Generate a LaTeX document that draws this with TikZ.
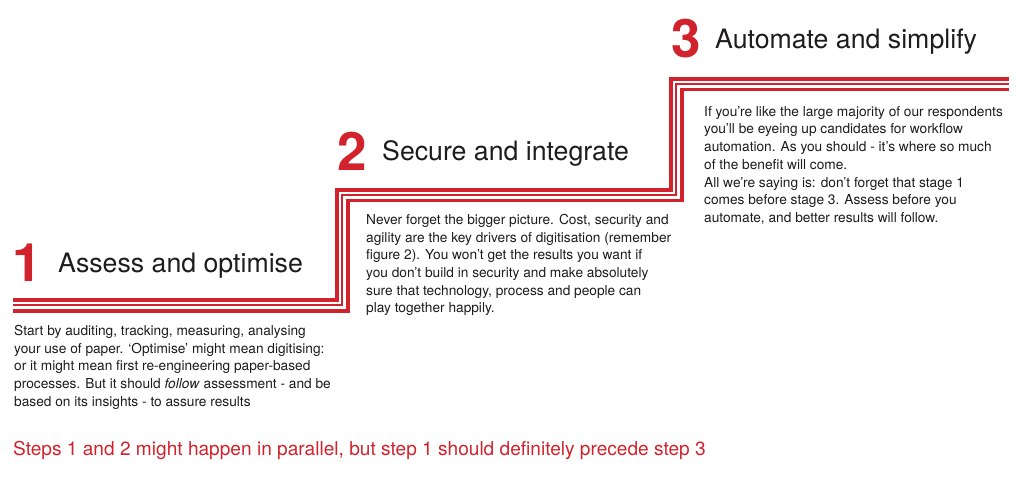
\documentclass[tikz,border=0pt]{standalone}
\usepackage{fontspec}
\setmainfont{TeX Gyre Heros}
\definecolor{stepred}{RGB}{210,35,45}
\definecolor{txt}{RGB}{30,28,29}
\begin{document}
\begin{tikzpicture}[x=1pt,y=-1pt,
  stair/.style={draw=stepred,line join=miter},
  num/.style={text=stepred,font=\fontsize{53}{53}\selectfont\bfseries,anchor=base west,inner sep=0},
  steptitle/.style={text=txt,font=\fontsize{26.7}{30}\selectfont,anchor=base west,inner sep=0},
  body/.style={text=txt,font=\fontsize{13.7}{17.7}\selectfont,align=left,anchor=north west,inner sep=0},
  note/.style={text=stepred,font=\fontsize{19.1}{22}\selectfont,anchor=base west,inner sep=0},
]
\useasboundingbox[fill=white] (0,0) rectangle (1024,486);
\foreach \o/\w in {0/3.8,5.3/1.9,10.6/3.8}
  \draw[stair,line width=\w] (13,300+\o) -- (337+\o,300+\o) -- (337+\o,190+\o) -- (671+\o,190+\o) -- (671+\o,79+\o) -- (1009,79+\o);

\node[num] (n1) at (12,281) {1};
\node[steptitle] (t1) at (58,272) {Assess and optimise};
\node[num] (n2) at (337,171) {2};
\node[steptitle] (t2) at (382,161) {Secure and integrate};
\node[num] (n3) at (671,58) {3};
\node[steptitle] (t3) at (715,49) {Automate and simplify};

\node[body] (b1) at (14,325) {Start by auditing, tracking, measuring, analysing\\
your use of paper. ‘Optimise’ might mean digitising:\\
or it might mean first re-engineering paper-based\\
processes. But it should \textit{follow} assessment - and be\\
based on its insights - to assure results};

\node[body] (b2) at (366,214) {Never forget the bigger picture. Cost, security and\\
agility are the key drivers of digitisation (remember\\
figure 2). You won’t get the results you want if\\
you don’t build in security and make absolutely\\
sure that technology, process and people can\\
play together happily.};

\node[body] (b3) at (704,106) {If you’re like the large majority of our respondents\\
you’ll be eyeing up candidates for workflow\\
automation. As you should - it’s where so much\\
of the benefit will come.\\
All we’re saying is: don’t forget that stage 1\\
comes before stage 3. Assess before you\\
automate, and better results will follow.};

\node[note] (nt) at (13,455) {Steps 1 and 2 might happen in parallel, but step 1 should definitely precede step 3};
\end{tikzpicture}
\end{document}
